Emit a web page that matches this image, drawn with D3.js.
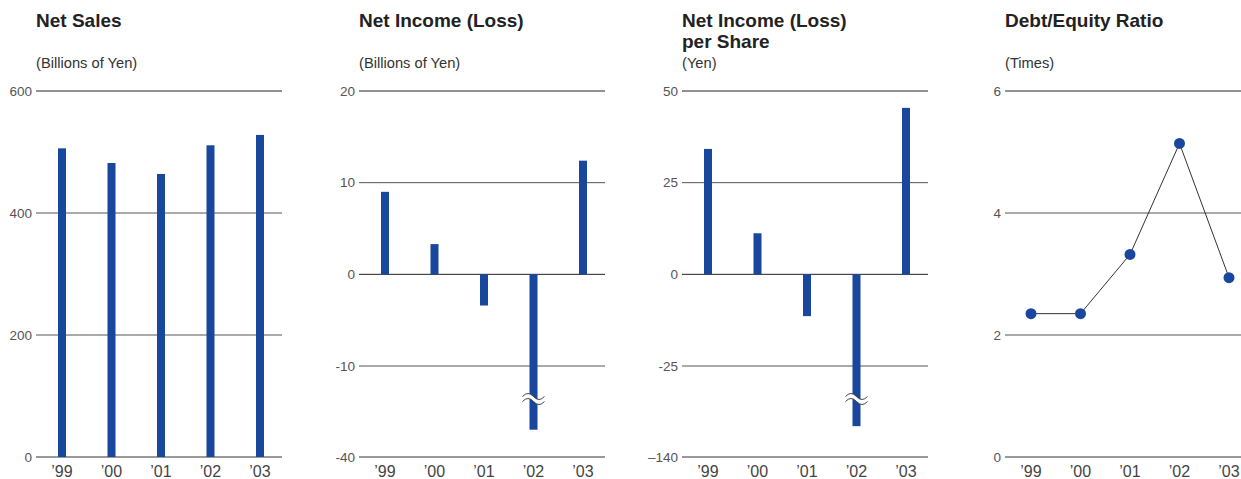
<!DOCTYPE html>
<html>
<head>
<meta charset="utf-8">
<script src="https://cdn.jsdelivr.net/npm/d3@7"></script>
<style>
  body { margin: 0; background: #fff; }
  svg { display: block; font-family: "Liberation Sans", Arial, sans-serif; }
</style>
</head>
<body>
<script>
// data
var years = ["’99", "’00", "’01", "’02", "’03"];
var netSales = [506, 482, 464, 511, 528];
var netIncome = [9.0, 3.3, -3.4, -31, 12.4];
var netIncomePerShare = [34.2, 11.2, -11.4, -101, 45.4];
var debtEquity = [2.35, 2.35, 3.32, 5.14, 2.94];

var salesTicks = [0, 200, 400, 600];
var incomeTicks = [-40, -10, 0, 10, 20];
var epsTicks = [-140, -25, 0, 25, 50];
var deTicks = [0, 2, 4, 6];

var blue = "#1a479e";
var top0 = 91, bottom0 = 457, axisW = 246;

var svg = d3.select("body")
  .append("svg")
    .attr("width", 1241)
    .attr("height", 479);

// panel setup (broken axes use a three-point domain)
var panels = [
  { x0: 36, title: ["Net Sales"], unit: "(Billions of Yen)", values: netSales, ticks: salesTicks,
    domain: [0, 600], range: [bottom0, top0], type: "bar" },
  { x0: 359, title: ["Net Income (Loss)"], unit: "(Billions of Yen)", values: netIncome, ticks: incomeTicks,
    domain: [-40, -10, 20], range: [bottom0, 366, top0], type: "bar", brk: 3 },
  { x0: 682, title: ["Net Income (Loss)", "per Share"], unit: "(Yen)", values: netIncomePerShare, ticks: epsTicks,
    domain: [-140, -25, 50], range: [bottom0, 366, top0], type: "bar", brk: 3 },
  { x0: 1005, title: ["Debt/Equity Ratio"], unit: "(Times)", values: debtEquity, ticks: deTicks,
    domain: [0, 6], range: [bottom0, top0], type: "line" }
];

panels.forEach(function (p) {
  var g = svg.append("g");
  var x = d3.scalePoint().domain(years).range([p.x0 + 26, p.x0 + 224]);
  var y = d3.scaleLinear().domain(p.domain).range(p.range);

  // titles
  p.title.forEach(function (t, i) {
    g.append("text")
      .attr("x", p.x0).attr("y", 27 + i * 21)
      .attr("font-size", 19).attr("font-weight", "bold")
      .attr("fill", "#222")
      .text(t);
  });
  g.append("text")
    .attr("x", p.x0).attr("y", 68)
    .attr("font-size", 14.7).attr("fill", "#333")
    .text(p.unit);

  // grid lines
  var minT = d3.min(p.ticks), maxT = d3.max(p.ticks);
  g.selectAll("line.grid")
    .data(p.ticks)
    .enter()
    .append("line")
      .attr("x1", p.x0).attr("x2", p.x0 + axisW)
      .attr("y1", function (d) { return y(d); })
      .attr("y2", function (d) { return y(d); })
      .attr("stroke", function (d) {
        if (d == maxT || (d == 0 && minT < 0)) return "#222";
        if (d == minT) return "#777";
        return "#555";
      })
      .attr("stroke-width", function (d) { return d == minT ? 1.5 : 1; });

  g.selectAll("text.tick")
    .data(p.ticks)
    .enter()
    .append("text")
      .attr("x", p.x0 - 4)
      .attr("y", function (d) { return y(d) + 4.5; })
      .attr("text-anchor", "end")
      .attr("font-size", 13.5).attr("fill", "#555")
      .text(function (d) { return d == -140 ? "–140" : d; });

  g.selectAll("text.year")
    .data(years)
    .enter()
    .append("text")
      .attr("x", function (d) { return x(d); })
      .attr("y", 477)
      .attr("text-anchor", "middle")
      .attr("font-size", 16).attr("fill", "#444")
      .text(function (d) { return d; });

  if (p.type == "bar") {
    g.selectAll("rect")
      .data(p.values)
      .enter()
      .append("rect")
        .attr("x", function (d, i) { return x(years[i]) - 4; })
        .attr("width", 8)
        .attr("y", function (d) { return Math.min(y(d), y(0)); })
        .attr("height", function (d) { return Math.abs(y(d) - y(0)); })
        .attr("fill", blue);

    if (p.brk != null) {
      var bx = x(years[p.brk]), by = 399;
      var wave = function (off) {
        return "M" + (bx - 11) + "," + (by + off) +
          " q5.5,-6 11,0 t11,0";
      };
      g.append("path")
        .attr("d", wave(-2.5) + " L" + (bx + 11) + "," + (by + 2.5) +
          " q-5.5,6 -11,0 t-11,0 Z")
        .attr("fill", "#fff");
      [-2.5, 2.5].forEach(function (o) {
        g.append("path")
          .attr("d", wave(o))
          .attr("fill", "none")
          .attr("stroke", "#333")
          .attr("stroke-width", 0.9);
      });
    }
  } else {
    var line = d3.line()
      .x(function (d, i) { return x(years[i]); })
      .y(function (d) { return y(d); });
    g.append("path")
      .datum(p.values)
      .attr("d", line)
      .attr("fill", "none")
      .attr("stroke", "#333")
      .attr("stroke-width", 1);
    g.selectAll("circle")
      .data(p.values)
      .enter()
      .append("circle")
        .attr("cx", function (d, i) { return x(years[i]); })
        .attr("cy", function (d) { return y(d); })
        .attr("r", 5.5)
        .attr("fill", blue);
  }
});
</script>
</body>
</html>
